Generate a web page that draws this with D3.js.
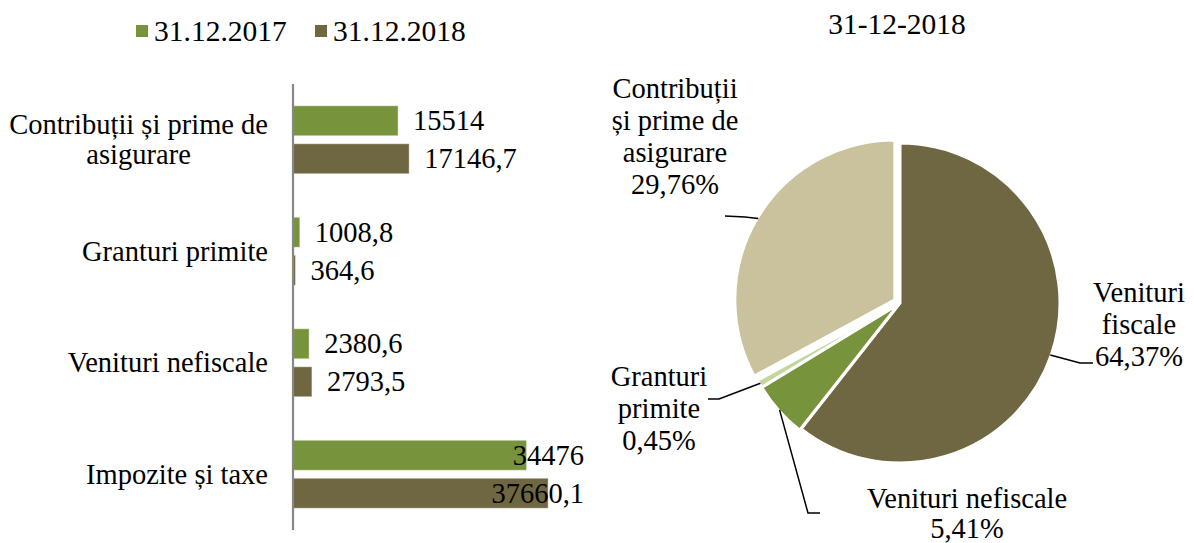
<!DOCTYPE html>
<html>
<head>
<meta charset="utf-8">
<script src="https://cdn.jsdelivr.net/npm/d3@7"></script>
<style>
  html, body { margin: 0; padding: 0; background: #ffffff; }
  text { font-family: 'Liberation Serif', 'DejaVu Serif', serif; fill: #000; }
</style>
</head>
<body>
<script>
// ---------- DATA ----------
const categories = ["Impozite și taxe", "Venituri nefiscale", "Granturi primite", "Contribuții și prime de asigurare"];
const categoryLabelLines = [["Impozite și taxe"], ["Venituri nefiscale"], ["Granturi primite"], ["Contribuții și prime de", "asigurare"]];
const seriesNames = ["31.12.2017", "31.12.2018"];
const values2017 = [34476, 2380.6, 1008.8, 15514];
const values2018 = [37660.1, 2793.5, 364.6, 17146.7];

const pieTitle = "31-12-2018";
const pieNames = ["Venituri fiscale", "Venituri nefiscale", "Granturi primite", "Contribuții și prime de asigurare"];
const pieShares = [60.6, 5.7, 0.8, 32.9];          // slice sizes as drawn in the picture
const piePctLabels = ["64,37%", "5,41%", "0,45%", "29,76%"];
const pieLabelLines = [["Venituri", "fiscale"], ["Venituri nefiscale"], ["Granturi", "primite"], ["Contribuții", "și prime de", "asigurare"]];

// ---------- STYLE / LAYOUT ----------
const W = 1194, H = 543;
const FONT = 28.5;
const barColors = ["#77933C", "#6F6741"];
const pieColors = ["#6F6741", "#77933C", "#C3D69B", "#C9C29D"];

const svg = d3.select("body").append("svg").attr("width", W).attr("height", H);

// ---------- BAR CHART ----------
const axisX = 293;
const plotTop = 84, plotBottom = 530;
const x = d3.scaleLinear().domain([0, 40000]).range([axisX, 564]);
const topToBottom = categories.slice().reverse();
const y0 = d3.scaleBand().domain(topToBottom).range([plotTop, plotBottom]).paddingInner(0).paddingOuter(0);
const bw = y0.bandwidth();
const y1 = d3.scaleBand().domain(seriesNames).range([bw / 2 - 34, bw / 2 + 34]).paddingInner(0.21).paddingOuter(0);

const fmt = v => String(v).replace(".", ",");
const barData = [];
categories.forEach((c, i) => {
  barData.push({cat: c, s: seriesNames[0], v: values2017[i], col: barColors[0]});
  barData.push({cat: c, s: seriesNames[1], v: values2018[i], col: barColors[1]});
});

const gBars = svg.append("g");
gBars.selectAll("rect").data(barData).enter().append("rect")
  .attr("x", x(0))
  .attr("y", d => y0(d.cat) + y1(d.s))
  .attr("width", d => x(d.v) - x(0))
  .attr("height", y1.bandwidth())
  .attr("fill", d => d.col)
  .attr("stroke", "rgba(255,255,255,0.45)")
  .attr("stroke-width", 1);

// axis line
svg.append("line")
  .attr("x1", axisX).attr("x2", axisX)
  .attr("y1", plotTop).attr("y2", plotBottom)
  .attr("stroke", "#878787").attr("stroke-width", 2.2);

// value labels
const labelRightLimit = 584;
const vl = svg.append("g").selectAll("text").data(barData).enter().append("text")
  .attr("font-size", FONT)
  .attr("y", d => y0(d.cat) + y1(d.s) + y1.bandwidth() / 2)
  .attr("dy", "0.33em")
  .text(d => fmt(d.v));
vl.each(function(d) {
  const w = this.getComputedTextLength();
  let xs = x(d.v) + 15;
  if (xs + w > labelRightLimit) xs = labelRightLimit - w;
  d3.select(this).attr("x", xs);
});

// category labels (block right-aligned, lines centered)
const catG = svg.append("g");
categories.forEach((c, i) => {
  const lines = categoryLabelLines[i];
  const cy = y0(c) + bw / 2;
  const lh = 30;
  const g = catG.append("g");
  const texts = lines.map((ln, k) => g.append("text")
    .attr("font-size", FONT)
    .attr("text-anchor", "middle")
    .attr("y", cy + (k - (lines.length - 1) / 2) * lh)
    .attr("dy", "0.33em")
    .text(ln));
  const widths = texts.map(t => t.node().getComputedTextLength());
  const maxW = d3.max(widths);
  const rightX = 268;
  texts.forEach(t => t.attr("x", rightX - maxW / 2));
});

// legend
const legend = svg.append("g");
const legendX = [136, 315];
seriesNames.forEach((s, i) => {
  legend.append("rect").attr("x", legendX[i]).attr("y", 25).attr("width", 12).attr("height", 12).attr("fill", barColors[i]);
  legend.append("text").attr("x", legendX[i] + 18).attr("y", 41).attr("font-size", 29.5).text(s);
});

// ---------- PIE CHART ----------
const cx = 900, cy = 303, R = 160;
svg.append("text").attr("x", 897).attr("y", 34).attr("font-size", 29.5).attr("text-anchor", "middle").text(pieTitle);

const explode = [0, 2, 2, 6];
const arcs = d3.pie().sort(null).value(d => d)(pieShares);
const arcGen = d3.arc().innerRadius(0).outerRadius(R);
const gPie = svg.append("g").attr("transform", `translate(${cx},${cy})`);
gPie.selectAll("path").data(arcs).enter().append("path")
  .attr("d", arcGen)
  .attr("transform", (d, i) => {
    const m = (d.startAngle + d.endAngle) / 2;
    return `translate(${Math.sin(m) * explode[i]},${-Math.cos(m) * explode[i]})`;
  })
  .attr("fill", (d, i) => pieColors[i])
  .attr("stroke", "#fff").attr("stroke-width", 3).attr("stroke-linejoin", "round");

// labels & leaders (layout)
const pieLabelLayout = [
  {x: 1139, y: 302, elbow: [[1080, 363], [1093, 363]]},
  {x: 967, y: 508, elbow: [[808, 513], [820, 513]]},
  {x: 659, y: 386, elbow: [[719, 399], [708, 399]]},
  {x: 675, y: 98, elbow: [[745, 217], [725, 216]]}
];
const lineH = 32;
arcs.forEach((d, i) => {
  const m = (d.startAngle + d.endAngle) / 2;
  const e = explode[i];
  const ax = cx + Math.sin(m) * (R - 1 + e);
  const ay = cy - Math.cos(m) * (R - 1 + e);
  const L = pieLabelLayout[i];
  const pts = [[ax, ay]].concat(L.elbow);
  svg.append("path")
    .attr("d", d3.line()(pts))
    .attr("fill", "none").attr("stroke", "#000").attr("stroke-width", 1.5);
  const lines = pieLabelLines[i].concat([piePctLabels[i]]);
  lines.forEach((ln, k) => {
    svg.append("text").attr("x", L.x).attr("y", L.y + k * (i === 1 ? 29.5 : lineH))
      .attr("font-size", FONT).attr("text-anchor", "middle").text(ln);
  });
});
</script>
</body>
</html>
